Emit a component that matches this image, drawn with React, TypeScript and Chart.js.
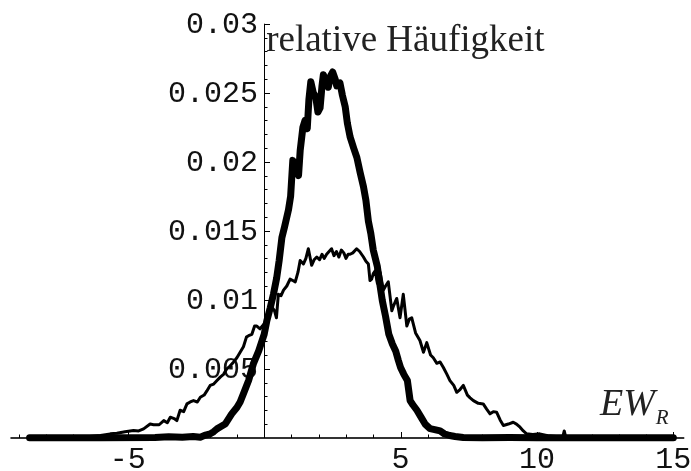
import React, { useEffect, useRef } from "react";
import { Chart, registerables } from "chart.js";

Chart.register(...registerables);

// [EW_R, relative frequency]
const narrowSeries: [number, number][] = [
  [-8.6, 0], [-6, 0], [-4, 0.03e-3], [-3.5, 0.08e-3], [-3, 0.05e-3], [-2.6, 0.1e-3],
  [-2.34, 0.05e-3], [-2.15, 0.2e-3], [-1.98, 0.29e-3], [-1.85, 0.45e-3], [-1.73, 0.65e-3],
  [-1.6, 0.8e-3], [-1.43, 1.0e-3], [-1.3, 1.4e-3], [-1.19, 1.74e-3], [-1.0, 2.2e-3],
  [-0.88, 2.6e-3], [-0.76, 3.2e-3], [-0.57, 4.15e-3], [-0.39, 5.4e-3], [-0.2, 6.3e-3],
  [0, 7.5e-3], [0.1, 8.5e-3], [0.22, 9.4e-3], [0.34, 10.4e-3], [0.46, 11.6e-3],
  [0.55, 12.85e-3], [0.65, 14.5e-3], [0.75, 15.3e-3], [0.89, 16.5e-3], [0.97, 17.5e-3],
  [1.05, 20.1e-3], [1.15, 19.5e-3], [1.26, 19.0e-3], [1.32, 20.8e-3], [1.42, 22.5e-3],
  [1.5, 23.0e-3], [1.58, 22.4e-3], [1.64, 24.5e-3], [1.71, 25.8e-3], [1.8, 25.0e-3],
  [1.89, 24.7e-3], [1.97, 23.6e-3], [2.05, 23.9e-3], [2.12, 25.5e-3], [2.17, 26.3e-3],
  [2.26, 25.8e-3], [2.35, 25.4e-3], [2.43, 26.2e-3], [2.51, 26.5e-3], [2.6, 26.0e-3],
  [2.66, 25.5e-3], [2.78, 25.7e-3], [2.87, 24.8e-3], [2.97, 24.0e-3], [3.05, 22.8e-3],
  [3.15, 21.8e-3], [3.28, 21.0e-3], [3.4, 20.3e-3], [3.52, 19.2e-3], [3.64, 18.2e-3],
  [3.73, 17.2e-3], [3.82, 15.7e-3], [3.91, 14.8e-3], [4.0, 13.6e-3], [4.15, 12.4e-3],
  [4.25, 11.0e-3], [4.33, 9.95e-3], [4.45, 8.8e-3], [4.57, 7.5e-3], [4.7, 6.8e-3],
  [4.82, 6.3e-3], [4.92, 5.6e-3], [5.0, 5.1e-3], [5.12, 4.6e-3], [5.25, 4.15e-3],
  [5.35, 2.7e-3], [5.45, 2.4e-3], [5.6, 2.0e-3], [5.75, 1.5e-3], [5.9, 1.0e-3],
  [6.08, 0.67e-3], [6.25, 0.6e-3], [6.45, 0.5e-3], [6.6, 0.3e-3], [6.8, 0.17e-3],
  [7.0, 0.1e-3], [7.3, 0.02e-3], [8, 0], [9, 0.02e-3], [10, 0], [11, 0.01e-3], [12, 0], [15, 0],
];

const broadSeries: [number, number][] = [
  [-8.6, 0], [-7, 0.02e-3], [-6.5, 0.08e-3], [-6, 0.17e-3], [-5.64, 0.29e-3], [-5.4, 0.33e-3],
  [-5.1, 0.45e-3], [-4.79, 0.53e-3], [-4.6, 0.5e-3], [-4.42, 0.65e-3], [-4.18, 1.0e-3],
  [-4.05, 0.95e-3], [-3.85, 0.95e-3], [-3.68, 1.25e-3], [-3.55, 1.1e-3], [-3.44, 1.5e-3],
  [-3.3, 1.4e-3], [-3.2, 1.25e-3], [-3.08, 2.0e-3], [-2.95, 1.9e-3], [-2.83, 2.46e-3],
  [-2.71, 2.6e-3], [-2.59, 2.7e-3], [-2.45, 2.6e-3], [-2.34, 2.94e-3], [-2.2, 3.1e-3],
  [-2.1, 3.4e-3], [-1.98, 3.8e-3], [-1.85, 3.9e-3], [-1.73, 4.15e-3], [-1.61, 4.4e-3],
  [-1.49, 4.6e-3], [-1.37, 5.0e-3], [-1.25, 5.2e-3], [-1.12, 5.5e-3], [-1.0, 5.8e-3],
  [-0.88, 6.2e-3], [-0.76, 6.6e-3], [-0.65, 7.3e-3], [-0.57, 7.4e-3], [-0.45, 7.5e-3],
  [-0.35, 8.1e-3], [-0.27, 8.1e-3], [-0.15, 7.9e-3], [0.06, 8.4e-3], [0.17, 9.0e-3],
  [0.28, 9.5e-3], [0.38, 9.2e-3], [0.45, 8.7e-3], [0.52, 10.4e-3], [0.62, 10.3e-3],
  [0.71, 10.7e-3], [0.83, 11.0e-3], [0.95, 11.5e-3], [1.05, 11.4e-3], [1.14, 11.3e-3],
  [1.24, 12.0e-3], [1.32, 12.85e-3], [1.44, 12.6e-3], [1.53, 13.0e-3], [1.62, 13.7e-3],
  [1.74, 12.5e-3], [1.83, 12.9e-3], [1.93, 13.1e-3], [2.03, 12.9e-3], [2.12, 13.3e-3],
  [2.2, 13.0e-3], [2.29, 13.3e-3], [2.38, 13.5e-3], [2.47, 13.7e-3], [2.56, 13.2e-3],
  [2.65, 13.5e-3], [2.74, 13.1e-3], [2.83, 13.6e-3], [2.92, 13.4e-3], [3.0, 13.0e-3],
  [3.08, 13.3e-3], [3.15, 13.3e-3], [3.25, 13.4e-3], [3.39, 13.7e-3], [3.5, 13.5e-3],
  [3.64, 13.1e-3], [3.73, 12.8e-3], [3.82, 12.6e-3], [3.88, 11.4e-3], [3.94, 11.5e-3],
  [4.0, 11.9e-3], [4.07, 12.1e-3], [4.15, 11.2e-3], [4.25, 12.0e-3], [4.37, 10.7e-3],
  [4.45, 11.0e-3], [4.55, 11.3e-3], [4.68, 9.2e-3], [4.75, 9.6e-3], [4.86, 10.1e-3],
  [4.98, 8.7e-3], [5.1, 10.4e-3], [5.23, 8.1e-3], [5.32, 8.6e-3], [5.41, 8.7e-3],
  [5.55, 7.6e-3], [5.71, 7.05e-3], [5.84, 6.2e-3], [5.96, 6.9e-3], [6.1, 6.0e-3],
  [6.2, 5.8e-3], [6.33, 5.4e-3], [6.45, 5.5e-3], [6.57, 5.1e-3], [6.7, 4.6e-3],
  [6.81, 4.15e-3], [6.95, 3.8e-3], [7.06, 3.3e-3], [7.18, 3.5e-3], [7.3, 3.8e-3],
  [7.45, 3.1e-3], [7.55, 2.9e-3], [7.67, 2.7e-3], [7.85, 2.5e-3], [8.03, 2.46e-3],
  [8.15, 2.1e-3], [8.28, 1.74e-3], [8.4, 1.9e-3], [8.52, 1.86e-3], [8.65, 1.3e-3],
  [8.77, 0.9e-3], [8.95, 1.0e-3], [9.13, 1.13e-3], [9.25, 1.0e-3], [9.38, 0.77e-3],
  [9.5, 0.5e-3], [9.62, 0.29e-3], [9.85, 0.25e-3], [10.1, 0.29e-3], [10.4, 0.15e-3],
  [10.7, 0.1e-3], [10.95, 0.1e-3], [11.0, 0.5e-3], [11.05, 0.1e-3], [11.5, 0.05e-3],
  [12, 0.03e-3], [13, 0], [15, 0],
];

const yTickValues = [0.005, 0.01, 0.015, 0.02, 0.025, 0.03];
const yTickLabels = ["0.005", "0.01", "0.015", "0.02", "0.025", "0.03"];
const xTickValues = [-5, 5, 10, 15];
const xTickLabels = ["-5", "5", "10", "15"];
const yAxisTitle = "relative Häufigkeit";
const xAxisTitleMain = "EW";
const xAxisTitleSub = "R";

const X_MIN = -9.5;
const X_MAX = 15.5;
const Y_MIN = -0.0024;
const Y_MAX = 0.0315;

const axesPlugin = {
  id: "mmaAxes",
  beforeDatasetsDraw(chart: any) {
    const { ctx } = chart;
    const xs = chart.scales.x;
    const ys = chart.scales.y;
    const x0 = Math.round(xs.getPixelForValue(0));
    const y0 = Math.round(ys.getPixelForValue(0));
    ctx.save();
    // x axis line
    ctx.strokeStyle = "#333";
    ctx.lineWidth = 2;
    ctx.beginPath();
    ctx.moveTo(xs.getPixelForValue(-9.3), y0);
    ctx.lineTo(xs.getPixelForValue(15.4), y0);
    ctx.stroke();
    // x ticks (point up)
    ctx.lineWidth = 1;
    ctx.strokeStyle = "#000";
    for (let v = -9; v <= 15; v++) {
      if (v === 0) continue;
      const px = Math.round(xs.getPixelForValue(v)) + 0.5;
      const len = v % 5 === 0 ? 6 : 3.5;
      ctx.beginPath();
      ctx.moveTo(px, y0);
      ctx.lineTo(px, y0 - len);
      ctx.stroke();
    }
    // y axis line
    ctx.beginPath();
    ctx.moveTo(x0 + 0.5, y0);
    ctx.lineTo(x0 + 0.5, ys.getPixelForValue(0.03));
    ctx.stroke();
    // y ticks (point right)
    for (let i = 1; i <= 30; i++) {
      const py = Math.round(ys.getPixelForValue(i / 1000)) + 0.5;
      const len = i % 5 === 0 ? 6 : 3.5;
      ctx.beginPath();
      ctx.moveTo(x0, py);
      ctx.lineTo(x0 + len, py);
      ctx.stroke();
    }
    // tick labels
    ctx.fillStyle = "#111";
    ctx.font = "30px 'Liberation Mono', 'DejaVu Sans Mono', monospace";
    ctx.textAlign = "right";
    ctx.textBaseline = "middle";
    yTickValues.forEach((v, i) => {
      ctx.fillText(yTickLabels[i], x0 - 6, ys.getPixelForValue(v) + 1);
    });
    ctx.textAlign = "center";
    xTickValues.forEach((v, i) => {
      ctx.fillText(xTickLabels[i], xs.getPixelForValue(v), y0 + 22);
    });
    ctx.restore();
  },
  afterDraw(chart: any) {
    const { ctx } = chart;
    const x0 = chart.scales.x.getPixelForValue(0);
    ctx.save();
    ctx.fillStyle = "#222";
    ctx.textBaseline = "alphabetic";
    ctx.textAlign = "left";
    ctx.font = "37px 'Liberation Serif', 'Times New Roman', serif";
    ctx.fillText(yAxisTitle, x0 + 2, 51);
    ctx.font = "italic 38px 'Liberation Serif', 'Times New Roman', serif";
    ctx.fillText(xAxisTitleMain, 600, 415);
    const w = ctx.measureText(xAxisTitleMain).width;
    ctx.font = "italic 21px 'Liberation Serif', 'Times New Roman', serif";
    ctx.fillText(xAxisTitleSub, 600 + w + 1, 424);
    ctx.restore();
  },
};

export default function App() {
  const ref = useRef<HTMLCanvasElement | null>(null);
  useEffect(() => {
    if (!ref.current) return;
    const chart = new Chart(ref.current, {
      type: "line",
      data: {
        datasets: [
          {
            label: "narrow",
            data: narrowSeries.map(([x, y]) => ({ x, y })),
            borderColor: "#000",
            borderWidth: 7,
            pointRadius: 0,
            tension: 0,
            borderJoinStyle: "round",
            borderCapStyle: "round",
            fill: false,
          },
          {
            label: "broad",
            data: broadSeries.map(([x, y]) => ({ x, y })),
            borderColor: "#000",
            borderWidth: 3,
            pointRadius: 0,
            tension: 0,
            borderJoinStyle: "round",
            borderCapStyle: "round",
            fill: false,
          },
        ],
      },
      options: {
        animation: false,
        responsive: false,
        devicePixelRatio: 1,
        layout: { padding: { left: 5, right: 4, top: 3, bottom: 0 } },
        plugins: { legend: { display: false }, tooltip: { enabled: false } },
        scales: {
          x: { type: "linear", min: X_MIN, max: X_MAX, display: false },
          y: { type: "linear", min: Y_MIN, max: Y_MAX, display: false },
        },
      },
      plugins: [axesPlugin],
    } as any);
    return () => chart.destroy();
  }, []);
  return (
    <div style={{ position: "fixed", left: 0, top: 0, width: 691, height: 471, background: "#fff" }}>
      <canvas ref={ref} width={691} height={471} style={{ display: "block" }} />
    </div>
  );
}
